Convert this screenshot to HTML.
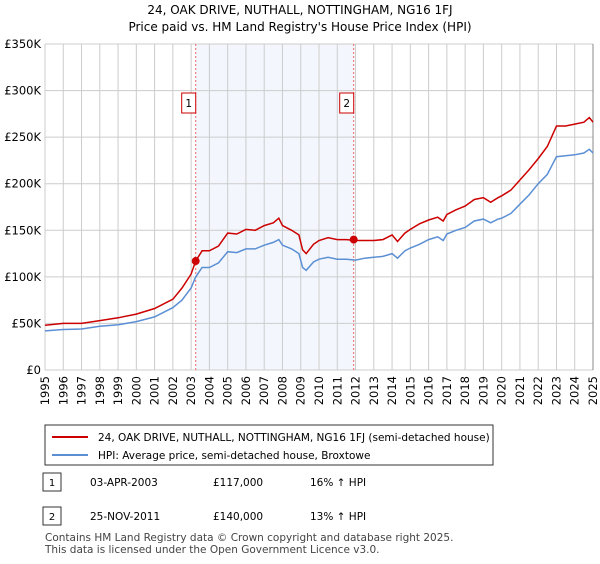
<!DOCTYPE html>
<html><head><meta charset="utf-8"><style>
body{margin:0;width:600px;height:560px;background:#fff;font-family:"DejaVu Sans","Liberation Sans",sans-serif;overflow:hidden}
svg text{font-family:"DejaVu Sans","Liberation Sans",sans-serif}
</style></head><body>
<svg id="c" width="600" height="560">
<text x="300" y="14" text-anchor="middle" font-size="12">24, OAK DRIVE, NUTHALL, NOTTINGHAM, NG16 1FJ</text>
<text x="300" y="31" text-anchor="middle" font-size="12">Price paid vs. HM Land Registry's House Price Index (HPI)</text>
<g id="plot"></g>
<rect x="45" y="425" width="448" height="40" fill="none" stroke="#333"/>
<line x1="52" y1="437" x2="88" y2="437" stroke="#cc0000" stroke-width="2"/>
<text x="98" y="441" font-size="10.5">24, OAK DRIVE, NUTHALL, NOTTINGHAM, NG16 1FJ (semi-detached house)</text>
<line x1="52" y1="455" x2="88" y2="455" stroke="#5b8fd4" stroke-width="2"/>
<text x="98" y="459" font-size="10.5">HPI: Average price, semi-detached house, Broxtowe</text>
<rect x="43" y="473" width="18" height="18" fill="none" stroke="#333"/>
<text x="52" y="486" text-anchor="middle" font-size="10">1</text>
<text x="90" y="486" font-size="10.5">03-APR-2003</text>
<text x="213" y="486" font-size="10.5">£117,000</text>
<text x="310" y="486" font-size="10.5">16% ↑ HPI</text>
<rect x="43" y="507" width="18" height="18" fill="none" stroke="#333"/>
<text x="52" y="520" text-anchor="middle" font-size="10">2</text>
<text x="90" y="520" font-size="10.5">25-NOV-2011</text>
<text x="213" y="520" font-size="10.5">£140,000</text>
<text x="310" y="520" font-size="10.5">13% ↑ HPI</text>
<text x="45" y="541" font-size="10.5" fill="#444">Contains HM Land Registry data © Crown copyright and database right 2025.</text>
<text x="45" y="553" font-size="10.5" fill="#444">This data is licensed under the Open Government Licence v3.0.</text>
</svg>
<script>
const hpiYears=[1995,1996,1997,1998,1999,2000,2001,2002,2002.5,2003,2003.25,2003.6,2004,2004.5,2005,2005.5,2006,2006.5,2007,2007.5,2007.8,2008,2008.5,2008.9,2009.1,2009.3,2009.7,2010,2010.5,2011,2011.5,2012,2012.5,2013,2013.5,2014,2014.3,2014.7,2015,2015.5,2016,2016.5,2016.8,2017,2017.5,2018,2018.5,2019,2019.4,2019.8,2020,2020.5,2021,2021.5,2022,2022.5,2023,2023.5,2024,2024.5,2024.8,2025];
const hpiValues=[42,43.5,44,47,48.5,52,57,67,75,88,100,110,110,115,127,126,130,130,134,137,140,134,130,125,110,107,116,119,121,119,119,118,120,121,122,125,120,128,131,135,140,143,139,146,150,153,160,162,158,162,163,168,178,188,200,210,229,230,231,233,237,233];
const priceValues=[48,50,50,53,56,60,66,76,88,103,117,128,128,133,147,146,151,150,155,158,163,155,150,145,129,125,135,139,142,140,140,139,139,139,140,145,138,147,151,157,161,164,160,167,172,176,183,185,180,185,187,193,204,215,227,240,262,262,264,266,271,266];
const yTicks=[0,50,100,150,200,250,300,350];
const yTickLabels=["£0","£50K","£100K","£150K","£200K","£250K","£300K","£350K"];
const xTicks=[1995,1996,1997,1998,1999,2000,2001,2002,2003,2004,2005,2006,2007,2008,2009,2010,2011,2012,2013,2014,2015,2016,2017,2018,2019,2020,2021,2022,2023,2024,2025];
const saleDates=[2003.25,2011.9];
const salePrices=[117,140];
const saleLabels=["1","2"];
const X0=45,X1=593,Y0=370,Y1=44;
const xs=v=>X0+(v-1995)/30*(X1-X0);
const ys=v=>Y0-v/350*(Y0-Y1);
const NS="http://www.w3.org/2000/svg",g=document.getElementById('plot');
function mk(t,a,name){const e=document.createElementNS(NS,t);for(const k in a)e.setAttribute(k,a[k]);


g.appendChild(e);return e;}
mk('rect',{x:xs(saleDates[0]),y:Y1,width:xs(saleDates[1])-xs(saleDates[0]),height:Y0-Y1,fill:'#eef3fc',opacity:0.7},'ownership-shade');
yTicks.forEach((t,i)=>{mk('line',{x1:X0,x2:X1,y1:ys(t),y2:ys(t),stroke:'#ccc'},'y-gridline');
const tx=mk('text',{x:X0-4,y:ys(t)+4,'text-anchor':'end','font-size':'11.5'},'y-tick-label');tx.textContent=yTickLabels[i];});
xTicks.forEach(t=>{mk('line',{x1:xs(t),x2:xs(t),y1:Y1,y2:Y0,stroke:'#ccc'},'x-gridline');
const tx=mk('text',{x:0,y:0,'text-anchor':'end','font-size':'11.5',transform:`translate(${xs(t)+4},${Y0+6}) rotate(-90)`},'x-tick-label');tx.textContent=t;});
mk('line',{x1:X1,x2:X1,y1:Y1,y2:Y0,stroke:'#888'},'right-axis');
saleDates.forEach((d,i)=>{mk('line',{x1:xs(d),x2:xs(d),y1:Y1,y2:Y0,stroke:'#e66','stroke-dasharray':'2,2'},'sale-marker-line');});
const pts=v=>hpiYears.map((y,i)=>xs(y).toFixed(1)+','+ys(v[i]).toFixed(1)).join(' ');
mk('polyline',{points:pts(hpiValues),fill:'none',stroke:'#5b8fd4','stroke-width':1.5},'hpi-line');
mk('polyline',{points:pts(priceValues),fill:'none',stroke:'#cc0000','stroke-width':1.5},'price-line');
saleDates.forEach((d,i)=>{mk('circle',{cx:xs(d),cy:ys(salePrices[i]),r:4,fill:'#cc0000'},'sale-point');
mk('rect',{x:xs(d)-14,y:93,width:14,height:20,fill:'#fff',stroke:'#cc0000'},'sale-badge');
const tx=mk('text',{x:xs(d)-7,y:107,'text-anchor':'middle','font-size':'10.5'},'sale-badge-label');tx.textContent=saleLabels[i];});
</script>
</body></html>
